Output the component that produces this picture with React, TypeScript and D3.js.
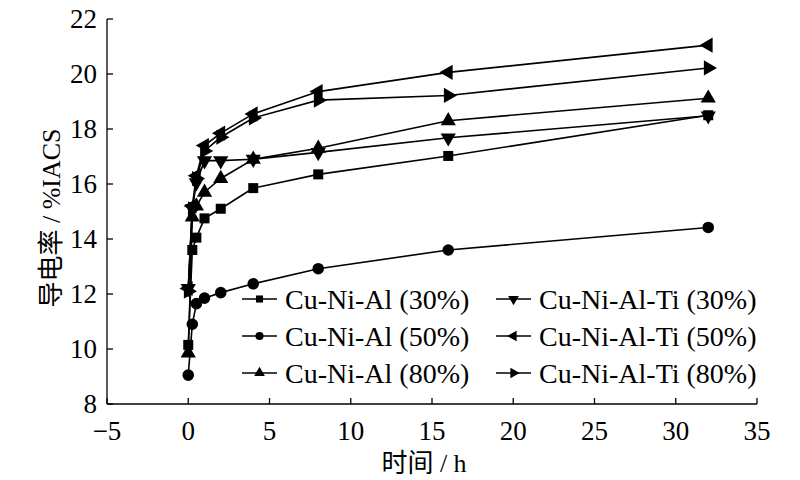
import React from "react";
import * as d3 from "d3";

const times = [0, 0.25, 0.5, 1, 2, 4, 8, 16, 32];
const alloy30 = [10.15, 13.6, 14.05, 14.75, 15.1, 15.85, 16.35, 17.02, 18.5];
const alloy50 = [9.05, 10.9, 11.65, 11.85, 12.05, 12.37, 12.92, 13.6, 14.42];
const alloy80 = [9.85, 14.8, 15.2, 15.7, 16.2, 16.9, 17.3, 18.3, 19.12];
const ti30 = [12.2, 15.1, 16.05, 16.85, 16.85, 16.9, 17.15, 17.68, 18.48];
const ti50 = [12.2, 15.2, 16.3, 17.4, 17.85, 18.55, 19.36, 20.06, 21.05];
const ti80 = [12.1, 15.1, 16.2, 17.2, 17.7, 18.4, 19.05, 19.22, 20.22];
const seriesNames = [
  "Cu-Ni-Al (30%)",
  "Cu-Ni-Al (50%)",
  "Cu-Ni-Al (80%)",
  "Cu-Ni-Al-Ti (30%)",
  "Cu-Ni-Al-Ti (50%)",
  "Cu-Ni-Al-Ti (80%)",
];
const seriesValues = [alloy30, alloy50, alloy80, ti30, ti50, ti80];
const xTicks = [-5, 0, 5, 10, 15, 20, 25, 30, 35];
const yTicks = [8, 10, 12, 14, 16, 18, 20, 22];

type Shape = { type: d3.SymbolType; rot: number };
const shapes: Shape[] = [
  { type: d3.symbolSquare, rot: 0 },
  { type: d3.symbolCircle, rot: 0 },
  { type: d3.symbolTriangle, rot: 0 },
  { type: d3.symbolTriangle, rot: 180 },
  { type: d3.symbolTriangle, rot: -90 },
  { type: d3.symbolTriangle, rot: 90 },
];
const sizes = [100, 105, 100, 100, 100, 100];

const W = 800;
const H = 480;
const M = { left: 107, right: 757, top: 19, bottom: 404 };
const FONT = "Liberation Serif, Times New Roman, Tinos, DejaVu Serif, Noto Sans CJK SC, serif";
const tStyle: React.CSSProperties = { fontFamily: FONT };

export default function App() {
  const x = d3.scaleLinear().domain([-5, 35]).range([M.left, M.right]);
  const y = d3.scaleLinear().domain([8, 22]).range([M.bottom, M.top]);
  const line = d3
    .line<number>()
    .x((_, i) => x(times[i]))
    .y((v) => y(v));

  const legendRows = [299, 336, 373];
  const legendCols = [242, 496];

  return (
    <div style={{ position: "absolute", left: 0, top: 0 }}>
      <svg width={W} height={H} style={{ display: "block", background: "#fff" }}>
        <rect x={0} y={0} width={W} height={H} fill="#fff" />
        <line x1={M.left} x2={M.left} y1={M.top} y2={M.bottom} stroke="#000" strokeWidth={1.3} />
        <line x1={M.left} x2={M.right} y1={M.bottom} y2={M.bottom} stroke="#000" strokeWidth={1.3} />
        {yTicks.map((t) => (
          <g key={"y" + t}>
            <line x1={M.left} x2={M.left + 6} y1={y(t)} y2={y(t)} stroke="#000" strokeWidth={1.3} />
            <text
              x={M.left - 10}
              y={y(t)}
              dy="0.35em"
              textAnchor="end"
              style={tStyle}
              fontSize={27}
              fill="#000"
            >
              {t}
            </text>
          </g>
        ))}
        {xTicks.map((t) => (
          <g key={"x" + t}>
            <line x1={x(t)} x2={x(t)} y1={M.bottom} y2={M.bottom - 6} stroke="#000" strokeWidth={1.3} />
            <text
              x={x(t)}
              y={M.bottom + 36}
              textAnchor="middle"
              style={tStyle}
              fontSize={27}
              fill="#000"
            >
              {t < 0 ? "\u2212" + Math.abs(t) : t}
            </text>
          </g>
        ))}
        <text x={424} y={472} textAnchor="middle" style={tStyle} fontSize={26} fill="#000">
          时间 / h
        </text>
        <text
          transform={`translate(60, 218) rotate(-90)`}
          textAnchor="middle"
          style={tStyle}
          fontSize={26}
          fill="#000"
        >
          导电率 / %IACS
        </text>

        {seriesValues.map((vals, si) => (
          <path key={"l" + si} d={line(vals) || ""} fill="none" stroke="#000" strokeWidth={1.6} />
        ))}
        {seriesValues.map((vals, si) => {
          const sym = d3.symbol().type(shapes[si].type).size(sizes[si])();
          return (
            <g key={"m" + si}>
              {vals.map((v, i) => (
                <path
                  key={i}
                  d={sym || ""}
                  transform={`translate(${x(times[i])},${y(v)}) rotate(${shapes[si].rot})`}
                  fill="#000"
                />
              ))}
            </g>
          );
        })}

        {seriesNames.map((name, si) => {
          const col = Math.floor(si / 3);
          const row = si % 3;
          const lx = legendCols[col];
          const ly = legendRows[row];
          const sym = d3.symbol().type(shapes[si].type).size(sizes[si] * 0.5)();
          return (
            <g key={"lg" + si}>
              <line x1={lx} x2={lx + 35} y1={ly} y2={ly} stroke="#000" strokeWidth={1.6} />
              <path
                d={sym || ""}
                transform={`translate(${lx + 17.5},${ly}) rotate(${shapes[si].rot})`}
                fill="#000"
              />
              <text x={lx + 43} y={ly} dy="0.35em" style={tStyle} fontSize={28} fill="#000">
                {name}
              </text>
            </g>
          );
        })}
      </svg>
    </div>
  );
}
